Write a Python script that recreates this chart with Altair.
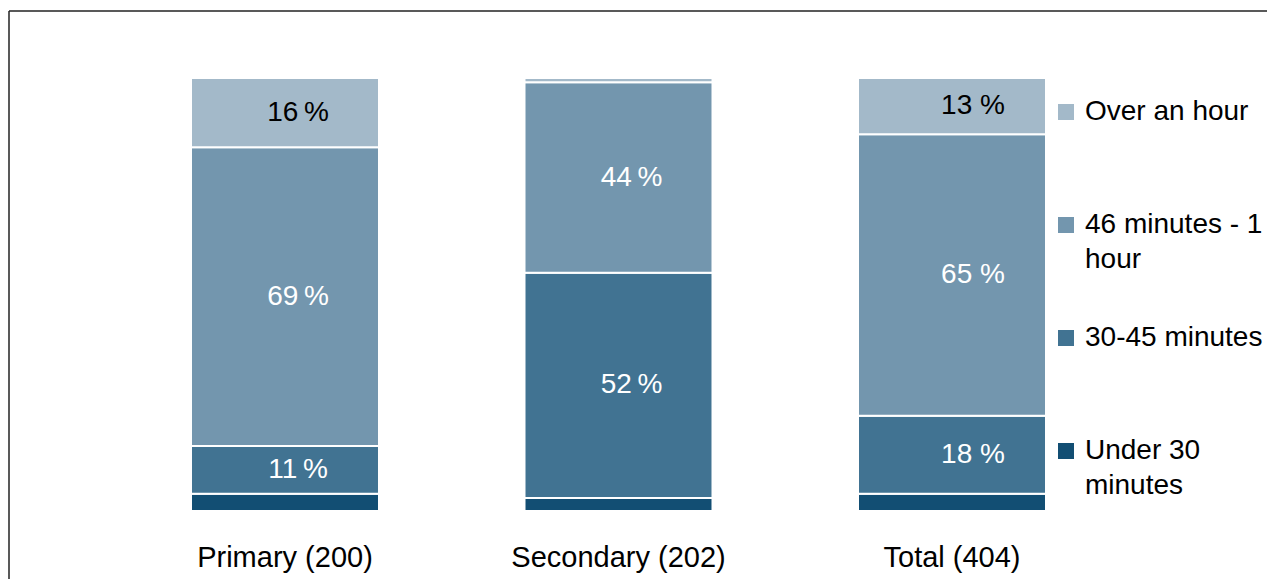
import altair as alt
import pandas as pd

# ---- data ----
groups = ["Primary (200)", "Secondary (202)", "Total (404)"]
# stacking order, bottom to top
categories = ["Under 30 minutes", "30-45 minutes", "46 minutes - 1 hour", "Over an hour"]
under_30 = [4, 3, 4]
min_30_45 = [11, 52, 18]
min_46_60 = [69, 44, 65]
over_hour = [16, 1, 13]
series = [under_30, min_30_45, min_46_60, over_hour]
label_sep = ["\u2009", "\u2009", " "]  # gap between number and % per group

legend_order = ["Over an hour", "46 minutes - 1 hour", "30-45 minutes", "Under 30 minutes"]
legend_colors = ["#A3B9C9", "#7396AE", "#417392", "#124E73"]
legend_lines = {
    "46 minutes - 1 hour": ["46 minutes - 1", "hour"],
    "Under 30 minutes": ["Under 30", "minutes"],
}

rows = []
for r, (cat, vals) in enumerate(zip(categories, series)):
    for g, v, sep in zip(groups, vals, label_sep):
        rows.append({"group": g, "cat": cat, "value": v, "rank": r,
                     "label": f"{v}{sep}%"})
df = pd.DataFrame(rows)

FONT = "Liberation Sans"

label_expr = ""
for k, lines in legend_lines.items():
    arr = "[" + ", ".join(f"'{s}'" for s in lines) + "]"
    label_expr += f"datum.label == '{k}' ? {arr} : "
label_expr += "datum.label"

xenc = alt.X(
    "group:N",
    sort=groups,
    scale=alt.Scale(paddingInner=0.4363, paddingOuter=0.5487),
    axis=alt.Axis(title=None, labelAngle=0, ticks=False, tickSize=0, domain=False,
                  grid=False, labelPadding=32, labelFontSize=29, labelColor="black",
                  labelFont=FONT, labelLimit=400),
)
yscale = alt.Scale(domain=[0, 100], nice=False)

bars = alt.Chart(df).mark_bar(stroke="white", strokeWidth=2).encode(
    x=xenc,
    y=alt.Y("value:Q", stack="zero", scale=yscale, axis=None),
    order=alt.Order("rank:Q", sort="ascending"),
    color=alt.Color(
        "cat:N",
        scale=alt.Scale(domain=legend_order, range=legend_colors),
        legend=alt.Legend(
            title=None, orient="none", legendX=1044, legendY=-15, direction="vertical",
            symbolType="square", symbolSize=256, symbolStrokeWidth=0,
            labelFontSize=28, labelFont=FONT, labelColor="black", labelLimit=400,
            labelOffset=5, rowPadding=15, clipHeight=98, padding=0,
            labelExpr=label_expr,
        ),
    ),
)

def text_layer(filter_expr, dx):
    return alt.Chart(df).transform_stack(
        stack="value", groupby=["group"], as_=["y0", "y1"],
        sort=[alt.SortField("rank", order="ascending")],
    ).transform_calculate(
        mid="(datum.y0 + datum.y1) / 2"
    ).transform_filter(
        "datum.value >= 10"
    ).transform_filter(filter_expr).mark_text(
        fontSize=28, font=FONT, dx=dx, baseline="middle", align="center"
    ).encode(
        x=alt.X("group:N", sort=groups),
        y=alt.Y("mid:Q", scale=yscale, axis=None),
        text="label:N",
        color=alt.condition("datum.cat == 'Over an hour'", alt.value("black"), alt.value("white")),
    )

text_a = text_layer("datum.group != 'Total (404)'", 13)
text_b = text_layer("datum.group == 'Total (404)'", 21)

frame_df = pd.DataFrame({"k": [0]})
frame_top = alt.Chart(frame_df).mark_rule(color="#222222", strokeWidth=1.5).encode(
    x=alt.value(1), x2=alt.value(1400), y=alt.value(-67)
)
frame_left = alt.Chart(frame_df).mark_rule(color="#222222", strokeWidth=1.5).encode(
    x=alt.value(1), y=alt.value(-67), y2=alt.value(700)
)

chart = alt.layer(bars, text_a, text_b, frame_top, frame_left).properties(
    width=1221,
    height=433,
    padding={"left": 0, "top": 70, "right": 38, "bottom": 68},
    autosize=alt.AutoSizeParams(type="none"),
    background="white",
).configure(
    style={"guide-label": {"lineHeight": 35}}
).configure_view(stroke="transparent")

chart.save("out.html", embed_options={"renderer": "svg", "actions": False})
